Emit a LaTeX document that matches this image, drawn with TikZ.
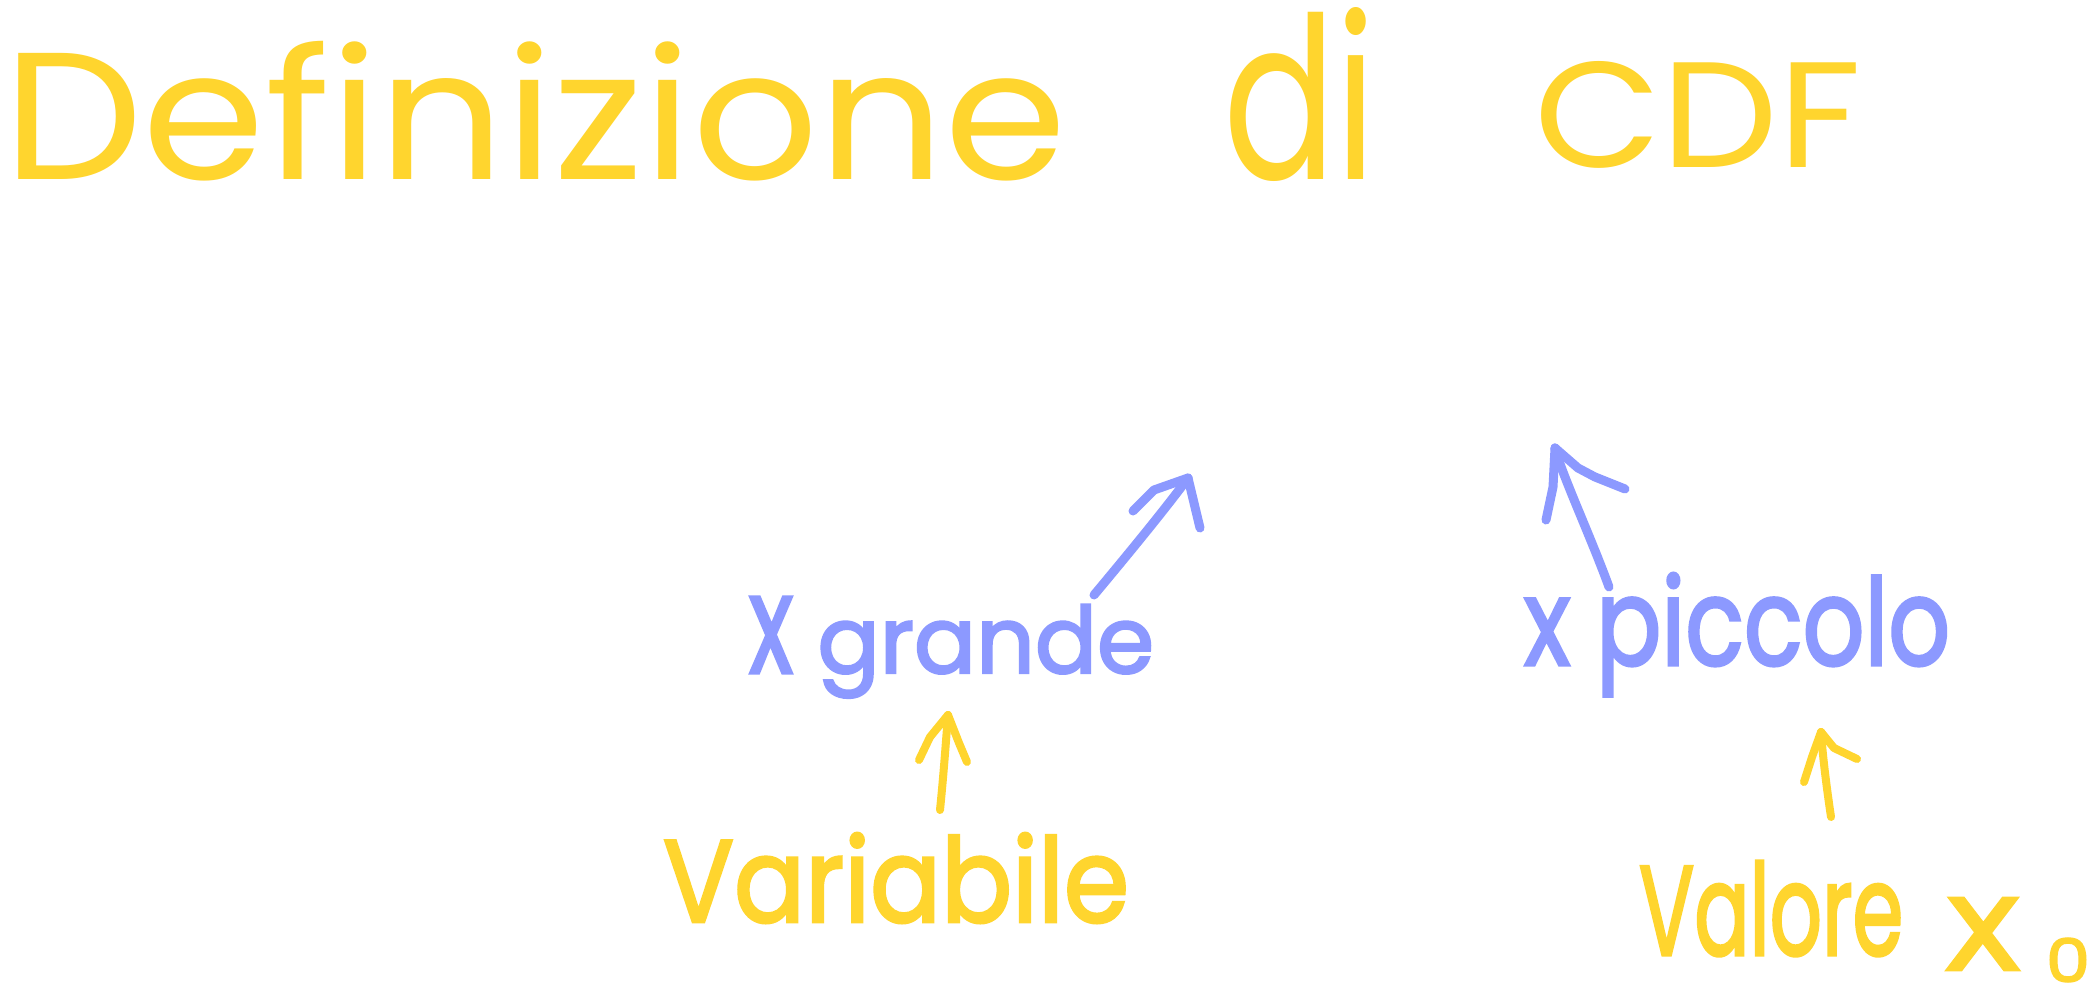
\documentclass[tikz,border=0pt]{standalone}
\usepackage{graphicx}
\usepackage{fontspec}
\setmainfont{Poppins}
\newfontfamily\handthick{Poppins}[FakeBold=2.5]
\newfontfamily\xhand{DejaVu Sans}[FakeBold=2]
\definecolor{hy}{HTML}{FFD52E}
\definecolor{hb}{HTML}{8C99FF}
\begin{document}
\begin{tikzpicture}[x=1pt,y=-1pt,
  ylab/.style={text=hy, inner sep=0pt, outer sep=0pt, anchor=base west},
  blab/.style={text=hb, inner sep=0pt, outer sep=0pt, anchor=base west},
  yarr/.style={draw=hy, line width=8pt, line cap=round, line join=round},
  barr/.style={draw=hb, line width=9pt, line cap=round, line join=round}]
\fill[white] (0,0) rectangle (2096,1000);
\useasboundingbox (0,0) rectangle (2096,1000);
% title
\node[ylab] (t1) at (3,180) {\resizebox{1064pt}{138pt}{Definizione}};
\node[ylab] (t2) at (1223,180) {\resizebox{154pt}{172pt}{di}};
\node[ylab] (t3) at (1534,168) {\resizebox{327pt}{106pt}{CDF}};
% blue labels
\node[blab] (grande) at (749,673) {\resizebox{405pt}{76pt}{\handthick\scalebox{1}[1.5]{x} grande}};
\node[blab] (piccolo) at (1524,665) {\resizebox{426pt}{92pt}{\handthick x piccolo}};
% yellow labels
\node[ylab] (variabile) at (663,922) {\resizebox{466pt}{89pt}{\handthick Variabile}};
\node[ylab] (valore) at (1639,955) {\resizebox{264pt}{94pt}{\handthick Valore}};
\node[ylab] (valx) at (1943,970) {\resizebox{80pt}{72pt}{\xhand x}};
\node[ylab] (val0) at (2046,982) {\resizebox{44pt}{44pt}{\handthick 0}};
% arrow coordinates
\coordinate (gA) at (1094,595);
\coordinate (gT) at (1188,478);
\coordinate (pA) at (1609,587);
\coordinate (pT) at (1555,448);
\coordinate (vA) at (940,810);
\coordinate (vT) at (948,715);
\coordinate (oA) at (1831,817);
\coordinate (oT) at (1821,732);
% blue arrow from x grande
\draw[barr] (gA) .. controls (1140,540) and (1172,500) .. (gT);
\draw[barr] (gT) -- ++(-34,12) -- ++(-21,21);
\draw[barr] (gT) -- ++(6,25) -- ++(6,25);
% blue arrow from x piccolo
\draw[barr] (pA) .. controls (1590,535) and (1562,475) .. (pT);
\draw[barr] (pT) -- ++(-2,39) -- ++(-7,33);
\draw[barr] (pT) -- ++(23,20) -- ++(17,9) -- ++(30,12);
% yellow arrow Variabile
\draw[yarr] (vA) .. controls (944,770) and (946,740) .. (vT);
\draw[yarr] (vT) -- ++(-18,22) -- ++(-11,23);
\draw[yarr] (vT) -- ++(11,28) -- ++(8,19);
% yellow arrow Valore
\draw[yarr] (oA) .. controls (1827,790) and (1823,760) .. (oT);
\draw[yarr] (oT) -- ++(-9,25) -- ++(-8,25);
\draw[yarr] (oT) -- ++(13,16) -- ++(23,11);
\end{tikzpicture}
\end{document}
